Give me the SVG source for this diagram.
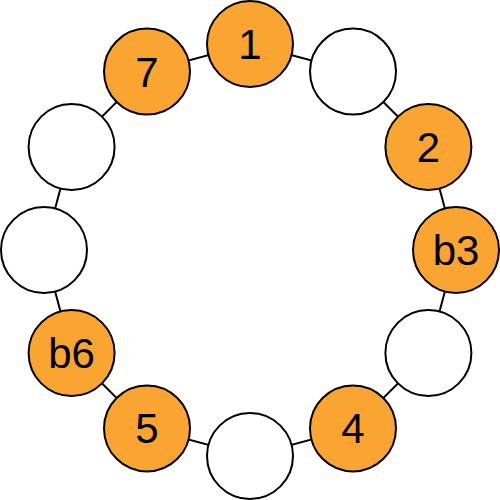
<svg xmlns="http://www.w3.org/2000/svg" width="500" height="500" viewBox="0 0 500 500">
<style>
.n{stroke:#000;stroke-width:2}
.on{fill:#FAA432}
.off{fill:#fff}
.t{font-family:"Liberation Sans",Arial,sans-serif;font-size:42px;text-anchor:middle;fill:#000}
.c{stroke:#000;stroke-width:2;fill:none}
</style>
<rect width="500" height="500" fill="#fff"/>
<g id="connectors">
<polygon class="c" points="250,44 353,71.6 428.4,147 456,250 428.4,353 353,428.4 250,456 147,428.4 71.6,353 44,250 71.6,147 147,71.6"/>
</g>
<g id="n1"><circle class="n on" cx="250" cy="44" r="43"/><text class="t" x="250" y="59">1</text></g>
<g id="n2"><circle class="n off" cx="353" cy="71.6" r="43"/></g>
<g id="n3"><circle class="n on" cx="428.4" cy="147" r="43"/><text class="t" x="428.4" y="162">2</text></g>
<g id="n4"><circle class="n on" cx="456" cy="250" r="43"/><text class="t" x="456" y="265">b3</text></g>
<g id="n5"><circle class="n off" cx="428.4" cy="353" r="43"/></g>
<g id="n6"><circle class="n on" cx="353" cy="428.4" r="43"/><text class="t" x="353" y="443.4">4</text></g>
<g id="n7"><circle class="n off" cx="250" cy="456" r="43"/></g>
<g id="n8"><circle class="n on" cx="147" cy="428.4" r="43"/><text class="t" x="147" y="443.4">5</text></g>
<g id="n9"><circle class="n on" cx="71.6" cy="353" r="43"/><text class="t" x="71.6" y="368">b6</text></g>
<g id="n10"><circle class="n off" cx="44" cy="250" r="43"/></g>
<g id="n11"><circle class="n off" cx="71.6" cy="147" r="43"/></g>
<g id="n12"><circle class="n on" cx="147" cy="71.6" r="43"/><text class="t" x="147" y="86.6">7</text></g>
</svg>
